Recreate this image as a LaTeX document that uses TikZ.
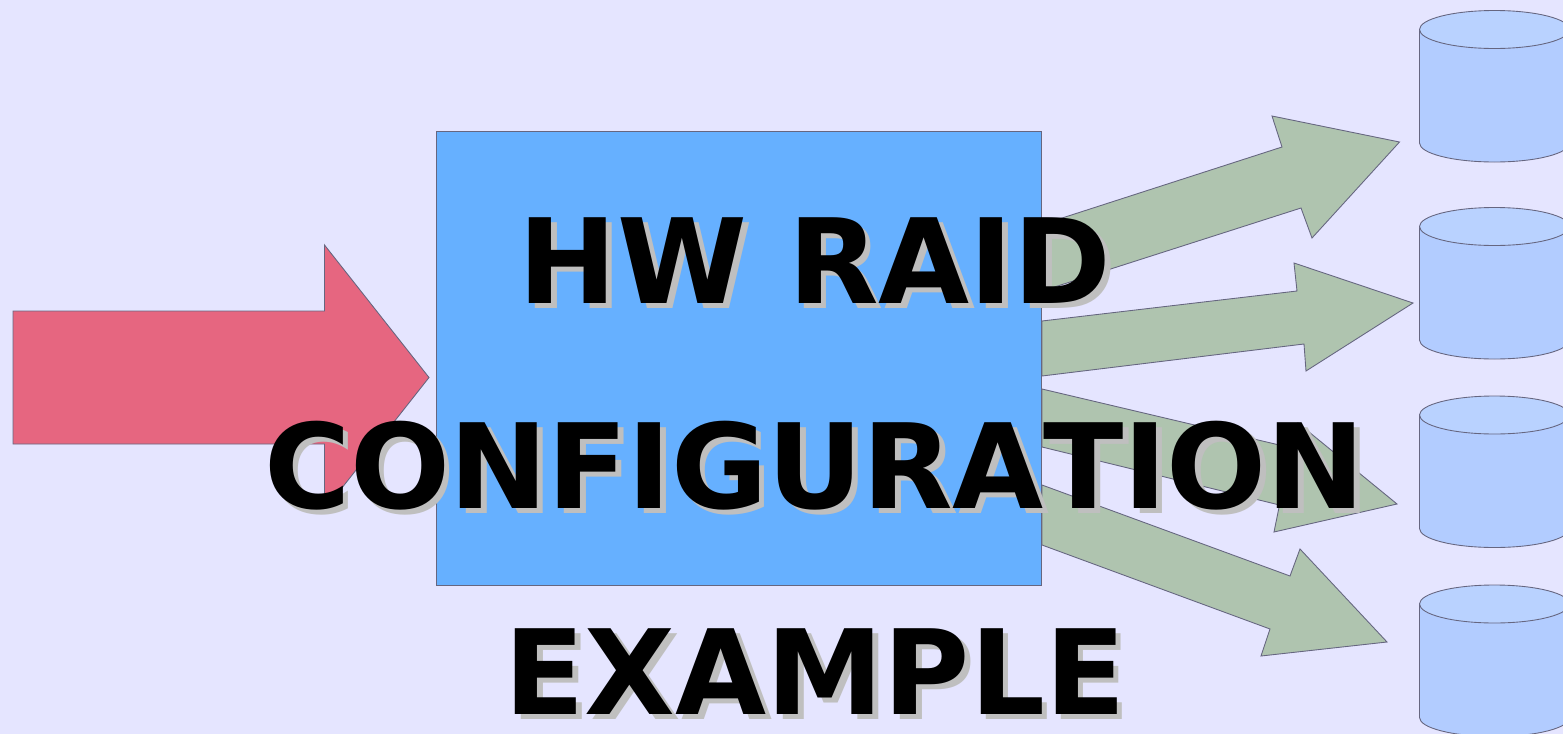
\documentclass[tikz,border=0pt]{standalone}
\usepackage{fontspec}
\setmainfont{DejaVu Sans}[Kerning=Off]
\usepackage{tikz}
\definecolor{backcol}{HTML}{E5E5FF}
\definecolor{raidcol}{HTML}{66B0FF}
\definecolor{incol}{HTML}{E66680}
\definecolor{outcol}{HTML}{AFC4AF}
\definecolor{diskcol}{HTML}{B2CCFF}
\definecolor{diskcap}{HTML}{B9D2FF}
\definecolor{edgecol}{HTML}{666680}
\definecolor{shadowcol}{HTML}{BFBFBF}
\tikzstyle{raid} = [rectangle, minimum width=605*0.02cm, minimum height=454*0.02cm, inner sep=0pt, draw=edgecol, fill=raidcol, line width=0.5pt]
\tikzstyle{inarrow} = [draw=edgecol, fill=incol, line width=0.5pt]
\tikzstyle{outarrow} = [draw=edgecol, fill=outcol, line width=0.5pt]
\tikzstyle{disk} = [draw=edgecol, fill=diskcol, line width=0.5pt]
\tikzstyle{diskend} = [draw=edgecol, fill=diskcap, line width=0.5pt]
\tikzstyle{title} = [anchor=base, inner sep=0pt, font=\bfseries\fontsize{67}{80}\selectfont]
\tikzstyle{titleshadow} = [title, text=shadowcol, xshift=3.3pt, yshift=-3.3pt]
\tikzstyle{tight} = [font=\bfseries\fontsize{67}{80}\selectfont\addfontfeature{LetterSpace=-0.36}]

\begin{document}
\begin{tikzpicture}[x=0.02cm, y=-0.02cm]

\clip (0,0) rectangle (1563,734);
\fill[backcol] (0,0) rectangle (1563,734);

% input arrow
\draw [inarrow] (13,311) -- (324.5,311) -- (324.5,245) -- (429,377.5) -- (324.5,510) -- (324.5,444) -- (13,444) -- cycle;

% output arrows
\draw [outarrow] (1042,224.5) -- (1282,147) -- (1272,116) -- (1399.5,142) -- (1312,238) -- (1301,208) -- (1042,291) -- cycle;
\draw [outarrow] (1042,321) -- (1297,291) -- (1294,263) -- (1413,303) -- (1306,371) -- (1304,344) -- (1042,376) -- cycle;
\draw [outarrow] (1042,389) -- (1292,448) -- (1298,423) -- (1397,504) -- (1274,532) -- (1279.5,505) -- (1042,447) -- cycle;
\draw [outarrow] (1042,485) -- (1290,576) -- (1300,549) -- (1387,642) -- (1261,656) -- (1270,629) -- (1042,545) -- cycle;

\node(box)[raid] at (738.5,358) {};

% disks
\foreach \t in {10.5,207.5,396,585} {
  \draw [disk] (1419.5,\t+19) -- (1419.5,\t+132.5) arc[start angle=180, end angle=0, x radius=75, y radius=19] -- (1569.5,\t+19) -- cycle;
  \draw [diskend] (1494.5,\t+19) ellipse [x radius=75, y radius=19];
}

\node(hwshadow)[titleshadow] at (815,303) {HW RAID};
\node(cfgshadow)[titleshadow, tight] at (814.5,508) {CONFIGURATION};
\node(exshadow)[titleshadow] at (815,714) {EXAMPLE};
\node(hw)[title] at (815,303) {HW RAID};
\node(cfg)[title, tight] at (814.5,508) {CONFIGURATION};
\node(ex)[title] at (815,714) {EXAMPLE};

\end{tikzpicture}
\end{document}
